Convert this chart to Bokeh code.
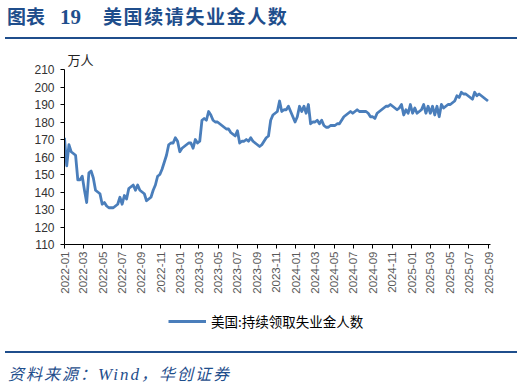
import math
import pandas as pd
from bokeh.plotting import figure
from bokeh.layouts import column
from bokeh.models import (Range1d, FixedTicker, Legend, LegendItem,
                          ColumnDataSource, Div)
from bokeh.embed import file_html
from bokeh.resources import INLINE

# ---------------- data ----------------
first_week = "2022-01-01"          # weekly observations, 7 days apart
claims = [
    171, 155, 167, 163, 162, 161, 147, 147, 149, 141, 134, 151, 152, 148, 141, 140,
    139, 133, 134, 132, 131, 131, 131, 132, 133, 137, 133, 138, 136, 142, 143, 144,
    141, 144, 141, 140, 139, 135, 136, 137, 141, 144, 149, 150, 153, 157, 161, 167,
    168, 168, 171, 169, 163, 165, 166, 167, 168, 168, 165, 170, 168, 169, 181, 182,
    181, 186, 184, 181, 180, 180, 179, 178, 177, 176, 176, 174, 173, 172, 175, 168,
    169, 169, 170, 169, 171, 169, 168, 167, 166, 167, 169, 171, 172, 181, 184, 185,
    186, 192, 186, 187, 187, 189, 186, 183, 180, 183, 189, 186, 189, 185, 190, 179,
    180, 180, 181, 179, 181, 178, 177, 177, 178, 178, 178, 179, 179, 181, 183, 184,
    185, 186, 185, 186, 187, 186, 186, 186, 186, 185, 183, 183, 182, 185, 186, 187,
    188, 189, 189, 190, 189, 188, 187, 188, 190, 184, 187, 185, 190, 185, 188, 185,
    186, 187, 190, 185, 189, 185, 189, 184, 189, 183, 190, 188, 189, 190, 190, 191,
    192, 195, 194, 197, 196, 196, 195, 194, 193, 197, 195, 196, 195, 194, 193, 192,
]
x_end_date = "2025-09-07"
tick_labels = ["2022-01", "2022-03", "2022-05", "2022-07", "2022-09", "2022-11",
               "2023-01", "2023-03", "2023-05", "2023-07", "2023-09", "2023-11",
               "2024-01", "2024-03", "2024-05", "2024-07", "2024-09", "2024-11",
               "2025-01", "2025-03", "2025-05", "2025-07", "2025-09"]
y_ticks = [110, 120, 130, 140, 150, 160, 170, 180, 190, 200, 210]
y_unit = "万人"
series_name = "美国:持续领取失业金人数"
title_prefix = "图表"
title_num = "19"
title_text = "美国续请失业金人数"
source_cn1 = "资料来源："
source_en = "Wind"
source_cn2 = "，华创证券"

# ---------------- helpers ----------------
def to_ms(d):
    return int(pd.Timestamp(d).value // 10**6)

dates = pd.date_range(first_week, periods=len(claims), freq="7D")
x_ms = [int(t.value // 10**6) for t in dates]
tick_pos = [to_ms(lab + "-01") for lab in tick_labels]

src = ColumnDataSource(dict(x=x_ms, y=claims))

LINE = "#4A7EBB"
NAVY = "#1F4E8C"
W = 524
TOP_H, MAIN_H, LEG_H, BOT_H = 46, 259, 40, 42
LINE_STYLE = dict(line_color=LINE, line_width=2.8, line_join="round")

# ---------------- header ----------------
header_html = f"""
<div style="position:relative;width:{W}px;height:{TOP_H}px;overflow:hidden;">
  <div style="position:absolute;left:7px;top:6px;white-space:nowrap;line-height:20px;
              color:{NAVY};font-family:'Noto Sans CJK SC';font-weight:bold;font-size:19px;">
    <span>{title_prefix}</span><span style="font-family:'Liberation Serif';font-size:21px;
      margin-left:15px;">{title_num}</span><span style="margin-left:22px;letter-spacing:1.6px;">{title_text}</span>
  </div>
  <div style="position:absolute;left:5px;top:37px;width:512px;height:2px;background:{NAVY};"></div>
</div>
"""
header = Div(text=header_html, width=W, height=TOP_H, margin=0)

# ---------------- main chart ----------------
x_range = Range1d(x_ms[0], to_ms(x_end_date))
p = figure(width=W, height=MAIN_H, output_backend="svg", toolbar_location=None,
           x_range=x_range, y_range=Range1d(y_ticks[0], y_ticks[-1]),
           min_border_left=64, min_border_right=34,
           min_border_top=17, min_border_bottom=61)
p.outline_line_color = None
p.grid.visible = False

p.title.text = y_unit
p.title.align = "left"
p.title.offset = 3
p.title.standoff = 2
p.title.text_font = "Noto Sans CJK SC"
p.title.text_font_size = "13px"
p.title.text_font_style = "normal"
p.title.text_color = "#222222"

p.line(x="x", y="y", source=src, **LINE_STYLE)

ya = p.yaxis[0]
ya.ticker = FixedTicker(ticks=y_ticks)
ya.axis_line_color = "#000000"
ya.major_tick_line_color = "#000000"
ya.major_tick_out = 4
ya.major_tick_in = 0
ya.minor_tick_line_color = None
ya.major_label_text_font = "Liberation Sans"
ya.major_label_text_font_size = "12px"
ya.major_label_text_color = "#333333"
ya.major_label_standoff = 6

xa = p.xaxis[0]
xa.ticker = FixedTicker(ticks=tick_pos)
xa.major_label_overrides = {pos: lab for pos, lab in zip(tick_pos, tick_labels)}
xa.major_label_orientation = math.pi / 2
xa.axis_line_color = "#000000"
xa.major_tick_line_color = "#000000"
xa.major_tick_out = 4
xa.major_tick_in = 0
xa.minor_tick_line_color = None
xa.major_label_text_font = "Liberation Sans"
xa.major_label_text_font_size = "11.5px"
xa.major_label_text_color = "#595959"
xa.major_label_standoff = 3

# ---------------- legend strip ----------------
lg = figure(width=W, height=LEG_H, output_backend="svg", toolbar_location=None,
            x_range=x_range, y_range=Range1d(0, 1),
            x_axis_location=None, y_axis_location=None,
            min_border_left=64, min_border_right=34,
            min_border_top=0, min_border_bottom=0)
lg.outline_line_color = None
lg.grid.visible = False
lr = lg.line(x="x", y="y", source=src, **LINE_STYLE)   # lies outside this strip's range
legend = Legend(items=[LegendItem(label=series_name, renderers=[lr])],
                location=(104, 14), orientation="horizontal",
                border_line_color=None, background_fill_alpha=0,
                padding=0, margin=0, glyph_width=38, glyph_height=16,
                label_height=16, label_standoff=5,
                label_text_font="Noto Sans CJK SC",
                label_text_font_size="13.5px", label_text_color="#000000")
lg.add_layout(legend)

# ---------------- footer ----------------
footer_html = f"""
<div style="position:relative;width:{W}px;height:{BOT_H}px;overflow:hidden;">
  <div style="position:absolute;left:5px;top:6px;width:512px;height:2px;background:{NAVY};"></div>
  <div style="position:absolute;left:8px;top:19px;white-space:nowrap;line-height:18px;
              color:{NAVY};font-family:'Noto Sans CJK SC';font-style:italic;font-size:16px;
              letter-spacing:2px;">
    <span>{source_cn1}</span><span style="font-family:'Liberation Serif';font-size:17px;">{source_en}</span><span>{source_cn2}</span>
  </div>
</div>
"""
footer = Div(text=footer_html, width=W, height=BOT_H, margin=0)

layout = column(header, p, lg, footer, spacing=0)
open("out.html", "w").write(file_html(layout, INLINE))
